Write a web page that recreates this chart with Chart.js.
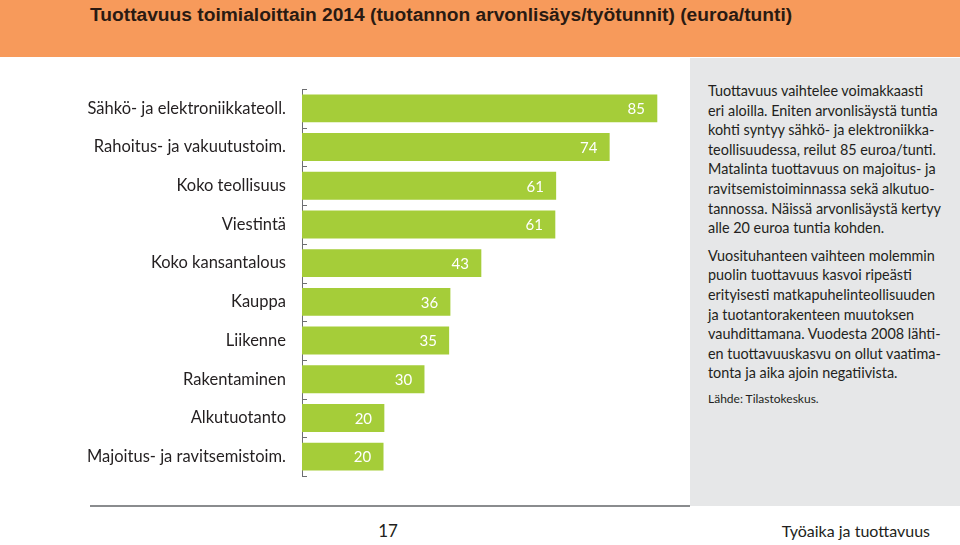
<!DOCTYPE html>
<html>
<head>
<meta charset="utf-8">
<script src="https://cdn.jsdelivr.net/npm/chart.js@4.4.1/dist/chart.umd.min.js"></script>
<style>
  html, body { margin:0; padding:0; background:#ffffff; }
  #page { position:relative; width:960px; height:545px; overflow:hidden; background:#fff; font-family:"Lato","Noto Sans",sans-serif; color:#231f20; }
  #header { position:absolute; left:0; top:0; width:960px; height:57px; background:#f79a5b; }
  #title { position:absolute; left:90px; top:4px; font-family:"Liberation Sans Narrow","Liberation Sans",sans-serif; font-weight:bold; font-size:19.2px; color:#2a1a12; white-space:nowrap; }
  #panel { position:absolute; left:690px; top:58px; width:270px; height:448px; background:#e6e7e8; }
  #text { position:absolute; left:708px; top:81px; font-size:14.4px; line-height:19.6px; color:#231f20; white-space:nowrap; }
  #text .gap { height:8px; }
  #text .src { font-size:12px; margin-top:6px; }
  #rule { position:absolute; left:90px; top:505px; width:600px; height:2px; background:#8a8c8e; }
  #pnum { position:absolute; left:388px; top:520px; transform:translateX(-50%); font-size:17px; color:#231f20; }
  #foot { position:absolute; right:30px; top:521px; font-size:16px; color:#231f20; white-space:nowrap; }
  #chartBox { position:absolute; left:0; top:0; width:960px; height:545px; }
</style>
</head>
<body>
<div id="page">
  <div id="header"></div>
  <div id="title">Tuottavuus toimialoittain 2014 (tuotannon arvonlisäys/työtunnit) (euroa/tunti)</div>
  <div id="panel"></div>
  <div id="text">
    <div>Tuottavuus vaihtelee voimakkaasti</div>
    <div>eri aloilla. Eniten arvonlisäystä tuntia</div>
    <div>kohti syntyy sähkö- ja elektroniikka-</div>
    <div>teollisuudessa, reilut 85 euroa/tunti.</div>
    <div>Matalinta tuottavuus on majoitus- ja</div>
    <div>ravitsemistoiminnassa sekä alkutuo-</div>
    <div>tannossa. Näissä arvonlisäystä kertyy</div>
    <div>alle 20 euroa tuntia kohden.</div>
    <div class="gap"></div>
    <div>Vuosituhanteen vaihteen molemmin</div>
    <div>puolin tuottavuus kasvoi ripeästi</div>
    <div>erityisesti matkapuhelinteollisuuden</div>
    <div>ja tuotantorakenteen muutoksen</div>
    <div>vauhdittamana. Vuodesta 2008 lähti-</div>
    <div>en tuottavuuskasvu on ollut vaatima-</div>
    <div>tonta ja aika ajoin negatiivista.</div>
    <div class="src">Lähde: Tilastokeskus.</div>
  </div>
  <div id="rule"></div>
  <div id="pnum">17</div>
  <div id="foot">Työaika ja tuottavuus</div>
  <div id="chartBox"><canvas id="c" width="960" height="545"></canvas></div>
</div>
<script>
const categories = [
  "Sähkö- ja elektroniikkateoll.",
  "Rahoitus- ja vakuutustoim.",
  "Koko teollisuus",
  "Viestintä",
  "Koko kansantalous",
  "Kauppa",
  "Liikenne",
  "Rakentaminen",
  "Alkutuotanto",
  "Majoitus- ja ravitsemistoim."
];
const values = [85.0, 73.6, 60.8, 60.6, 42.9, 35.5, 35.2, 29.3, 19.7, 19.5];
const valueLabels = ["85", "74", "61", "61", "43", "36", "35", "30", "20", "20"];

const barColor = "#a5cd39";
const axisColor = "#6d6e71";

const boundaryTicks = {
  id: "boundaryTicks",
  afterDraw(chart) {
    const ys = chart.scales.y;
    const left = chart.chartArea.left;
    const ctx = chart.ctx;
    ctx.save();
    ctx.strokeStyle = axisColor;
    ctx.lineWidth = 1;
    for (let i = 0; i <= categories.length; i++) {
      const y = Math.round(ys.getPixelForValue(i - 0.5)) + 0.5;
      ctx.beginPath();
      ctx.moveTo(left, y);
      ctx.lineTo(left + 5, y);
      ctx.stroke();
    }
    ctx.restore();
  }
};

const valueText = {
  id: "valueText",
  afterDatasetsDraw(chart) {
    const ctx = chart.ctx;
    const meta = chart.getDatasetMeta(0);
    ctx.save();
    ctx.fillStyle = "#ffffff";
    ctx.font = "15px Lato, 'Noto Sans', sans-serif";
    ctx.textAlign = "center";
    ctx.textBaseline = "middle";
    meta.data.forEach((bar, i) => {
      ctx.fillText(valueLabels[i], bar.x - 21, bar.y + 1);
    });
    ctx.restore();
  }
};

new Chart(document.getElementById("c"), {
  type: "bar",
  data: {
    labels: categories,
    datasets: [{
      data: values,
      backgroundColor: barColor,
      borderWidth: 0,
      barPercentage: 0.72,
      categoryPercentage: 1.0
    }]
  },
  options: {
    indexAxis: "y",
    responsive: false,
    animation: false,
    events: [],
    layout: { padding: { left: 0, right: 240, top: 89, bottom: 69 } },
    plugins: { legend: { display: false }, tooltip: { enabled: false } },
    scales: {
      x: { display: false, min: 0, max: 100 },
      y: {
        offset: true,
        grid: { display: false, drawTicks: false },
        border: { display: true, color: axisColor, width: 1 },
        ticks: {
          color: "#231f20",
          padding: 16,
          font: { family: "Lato, 'Noto Sans', sans-serif", size: 16.5 }
        },
        afterFit(scale) { scale.width = 302; }
      }
    }
  },
  plugins: [boundaryTicks, valueText]
});
</script>
</body>
</html>
